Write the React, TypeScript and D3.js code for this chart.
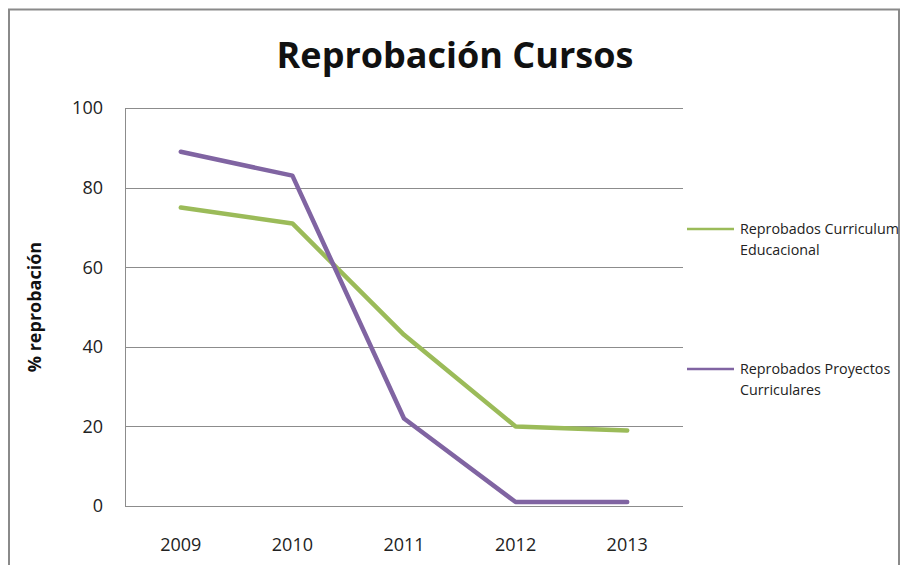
import React, { useEffect, useRef } from "react";
import * as d3 from "d3";

const years = ["2009", "2010", "2011", "2012", "2013"];
const curriculumEducacional = [75, 71, 43, 20, 19];
const proyectosCurriculares = [89, 83, 22, 1, 1];
const yTicks = [0, 20, 40, 60, 80, 100];

const series = [
  { name: ["Reprobados Curriculum", "Educacional"], values: curriculumEducacional, color: "#9bbb59" },
  { name: ["Reprobados Proyectos", "Curriculares"], values: proyectosCurriculares, color: "#8064a2" },
];

const App: React.FC = () => {
  const svgRef = useRef<SVGSVGElement | null>(null);

  useEffect(() => {
    const width = 903;
    const height = 565;
    const margin = { top: 108, right: 220, bottom: 59, left: 125 };
    const font = "'Open Sans', 'DejaVu Sans', sans-serif";

    const svg = d3.select(svgRef.current).attr("width", width).attr("height", height);
    svg.selectAll("*").remove();

    svg.append("rect").attr("width", width).attr("height", height).attr("fill", "white");

    // outer frame
    svg
      .append("path")
      .attr("d", `M9,${height} V9.5 H899 V${height}`)
      .attr("fill", "none")
      .attr("stroke", "#8a8a8a")
      .attr("stroke-width", 2);

    const x = d3
      .scaleBand()
      .domain(years)
      .range([margin.left, width - margin.right]);

    const y = d3
      .scaleLinear()
      .domain([0, 100])
      .range([height - margin.bottom, margin.top]);

    // gridlines
    svg
      .append("g")
      .selectAll("line")
      .data(yTicks)
      .enter()
      .append("line")
      .attr("x1", margin.left)
      .attr("x2", width - margin.right)
      .attr("y1", (d) => Math.round(y(d)) + 0.5)
      .attr("y2", (d) => Math.round(y(d)) + 0.5)
      .attr("stroke", "#8c8c8c")
      .attr("stroke-width", 1);

    svg
      .append("line")
      .attr("x1", margin.left + 0.5)
      .attr("x2", margin.left + 0.5)
      .attr("y1", margin.top)
      .attr("y2", height - margin.bottom)
      .attr("stroke", "#8c8c8c");

    // y labels
    svg
      .append("g")
      .selectAll("text")
      .data(yTicks)
      .enter()
      .append("text")
      .attr("x", 103)
      .attr("y", (d) => y(d))
      .attr("dy", "0.35em")
      .attr("text-anchor", "end")
      .style("font-family", font)
      .style("font-size", "18px")
      .style("fill", "#222")
      .text((d) => d);

    // x labels
    svg
      .append("g")
      .selectAll("text")
      .data(years)
      .enter()
      .append("text")
      .attr("x", (d) => (x(d) ?? 0) + x.bandwidth() / 2)
      .attr("y", 551)
      .attr("text-anchor", "middle")
      .style("font-family", font)
      .style("font-size", "18px")
      .style("fill", "#222")
      .text((d) => d);

    // lines
    const line = d3
      .line<number>()
      .x((_, i) => (x(years[i]) ?? 0) + x.bandwidth() / 2)
      .y((d) => y(d));

    series.forEach((s) => {
      svg
        .append("path")
        .datum(s.values)
        .attr("d", line)
        .attr("fill", "none")
        .attr("stroke", s.color)
        .attr("stroke-width", 4.5)
        .attr("stroke-linejoin", "round")
        .attr("stroke-linecap", "round");
    });

    // legend
    const legendY = [229, 369];
    series.forEach((s, i) => {
      const g = svg.append("g").attr("transform", `translate(0,${legendY[i]})`);
      g.append("line")
        .attr("x1", 687)
        .attr("x2", 734)
        .attr("y1", 0)
        .attr("y2", 0)
        .attr("stroke", s.color)
        .attr("stroke-width", 2.5);
      s.name.forEach((t, j) => {
        g.append("text")
          .attr("x", 740)
          .attr("y", j * 21)
          .attr("dy", "0.35em")
          .style("font-family", font)
          .style("font-size", "14.3px")
          .style("fill", "#222")
          .text(t);
      });
    });

    // title
    svg
      .append("text")
      .attr("x", 455)
      .attr("y", 68)
      .attr("text-anchor", "middle")
      .style("font-family", font)
      .style("font-size", "36px")
      .style("font-weight", "bold")
      .style("fill", "#111")
      .text("Reprobación Cursos");

    // y axis title
    svg
      .append("text")
      .attr("transform", `translate(41,${y(50)}) rotate(-90)`)
      .attr("text-anchor", "middle")
      .style("font-family", font)
      .style("font-size", "18px")
      .style("font-weight", "bold")
      .style("fill", "#111")
      .text("% reprobación");
  }, []);

  return <svg ref={svgRef} style={{ display: "block", position: "absolute", left: 0, top: 0 }}></svg>;
};

export default App;
